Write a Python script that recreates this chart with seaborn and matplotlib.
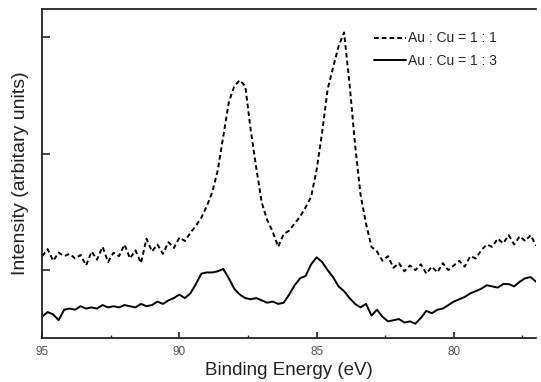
import matplotlib
matplotlib.use("Agg")
import matplotlib.pyplot as plt
import seaborn as sns
import pandas as pd
from matplotlib.ticker import MultipleLocator, NullFormatter

energy = [95.0, 94.8, 94.6, 94.4, 94.2, 94.0, 93.8, 93.6, 93.4, 93.2,
          93.0, 92.8, 92.6, 92.4, 92.2, 92.0, 91.8, 91.6, 91.4, 91.2,
          91.0, 90.8, 90.6, 90.4, 90.2, 90.0, 89.8, 89.6, 89.4, 89.2,
          89.0, 88.8, 88.6, 88.4, 88.2, 88.0, 87.8, 87.6, 87.4, 87.2,
          87.0, 86.8, 86.6, 86.4, 86.2, 86.0, 85.8, 85.6, 85.4, 85.2,
          85.0, 84.8, 84.6, 84.4, 84.2, 84.0, 83.8, 83.6, 83.4, 83.2,
          83.0, 82.8, 82.6, 82.4, 82.2, 82.0, 81.8, 81.6, 81.4, 81.2,
          81.0, 80.8, 80.6, 80.4, 80.2, 80.0, 79.8, 79.6, 79.4, 79.2,
          79.0, 78.8, 78.6, 78.4, 78.2, 78.0, 77.8, 77.6, 77.4, 77.2,
          77.0]

au_cu_1_1 = [1.12, 1.18, 1.08, 1.15, 1.12, 1.14, 1.10, 1.13, 1.04, 1.16,
             1.09, 1.20, 1.07, 1.15, 1.12, 1.22, 1.10, 1.17, 1.06, 1.27,
             1.16, 1.22, 1.14, 1.24, 1.19, 1.28, 1.25, 1.32, 1.38, 1.45,
             1.55, 1.67, 1.86, 2.15, 2.44, 2.58, 2.63, 2.58, 2.20, 1.88,
             1.58, 1.43, 1.33, 1.20, 1.31, 1.34, 1.40, 1.46, 1.54, 1.63,
             1.86, 2.18, 2.55, 2.74, 2.92, 3.04, 2.60, 2.08, 1.65, 1.40,
             1.20, 1.16, 1.08, 1.12, 1.02, 1.06, 0.99, 1.04, 1.00, 1.05,
             0.97, 1.03, 0.98, 1.06, 1.00, 1.04, 1.08, 1.03, 1.12, 1.10,
             1.17, 1.22, 1.20, 1.27, 1.23, 1.30, 1.22, 1.29, 1.25, 1.30,
             1.21]

au_cu_1_3 = [0.60, 0.64, 0.62, 0.57, 0.66, 0.67, 0.66, 0.69, 0.67, 0.68,
             0.67, 0.70, 0.68, 0.69, 0.68, 0.70, 0.69, 0.68, 0.71, 0.69,
             0.70, 0.73, 0.71, 0.74, 0.76, 0.79, 0.76, 0.80, 0.88, 0.97,
             0.98, 0.98, 0.99, 1.01, 0.93, 0.84, 0.79, 0.76, 0.75, 0.76,
             0.74, 0.72, 0.73, 0.71, 0.72, 0.79, 0.87, 0.93, 0.95, 1.05,
             1.11, 1.07, 1.00, 0.94, 0.86, 0.82, 0.76, 0.71, 0.68, 0.71,
             0.61, 0.66, 0.60, 0.56, 0.57, 0.58, 0.55, 0.56, 0.54, 0.59,
             0.65, 0.63, 0.66, 0.67, 0.70, 0.73, 0.75, 0.77, 0.80, 0.82,
             0.84, 0.87, 0.86, 0.85, 0.88, 0.88, 0.86, 0.90, 0.93, 0.94,
             0.90]

labels = ["Au : Cu = 1 : 1", "Au : Cu = 1 : 3"]
x_ticks = [95, 90, 85, 80]
y_ticks = [1, 2, 3]

sns.set_style("ticks")
plt.rcParams["font.family"] = ["Liberation Sans", "DejaVu Sans"]

df = pd.DataFrame({
    "energy": energy * 2,
    "intensity": au_cu_1_1 + au_cu_1_3,
    "sample": [labels[0]] * len(energy) + [labels[1]] * len(energy),
})

fig = plt.figure(figsize=(5.41, 3.82), dpi=100)
ax = fig.add_axes([0.078, 0.116, 0.913, 0.860])

sns.lineplot(data=df[df["sample"] == labels[0]], x="energy", y="intensity",
             ax=ax, color="black", lw=1.4, linestyle=(0, (2.4, 1.6)),
             label=labels[0], estimator=None, sort=False)
sns.lineplot(data=df[df["sample"] == labels[1]], x="energy", y="intensity",
             ax=ax, color="black", lw=1.4, linestyle="-",
             label=labels[1], estimator=None, sort=False)

ax.set_xlim(95, 77)
ax.set_ylim(0.42, 3.24)
ax.set_xticks(x_ticks)
ax.set_xticklabels([str(t) for t in x_ticks])
ax.xaxis.set_minor_locator(MultipleLocator(2.5))
ax.set_yticks(y_ticks)
ax.yaxis.set_major_formatter(NullFormatter())

ax.tick_params(axis="x", which="major", direction="in", length=4, width=1.2,
               labelsize=8.5, labelcolor="#555555", pad=6)
ax.tick_params(axis="x", which="minor", direction="in", length=2.5, width=1.0)
ax.tick_params(axis="y", which="major", direction="in", length=6, width=1.2)
ax.tick_params(top=False, right=False)

for side in ["left", "bottom", "top"]:
    ax.spines[side].set_linewidth(1.3)
    ax.spines[side].set_color("#222222")
ax.spines["right"].set_visible(False)

ax.set_xlabel("Binding Energy (eV)", fontsize=13.5, color="#222222", labelpad=3)
ax.set_ylabel("Intensity (arbitary units)", fontsize=14, color="#222222", labelpad=6)

ax.legend(loc="upper right", frameon=False, fontsize=10, handlelength=2.3,
          handletextpad=0.15, borderaxespad=1.2, labelspacing=0.6,
          bbox_to_anchor=(0.965, 1.0))

fig.savefig("out.png", dpi=100)
